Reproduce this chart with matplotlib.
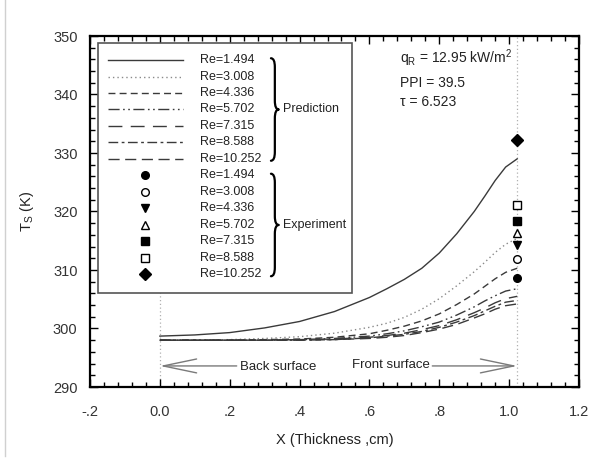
import matplotlib
matplotlib.use("Agg")
import matplotlib.pyplot as plt
from matplotlib.lines import Line2D
from matplotlib.path import Path
from matplotlib.patches import PathPatch, Rectangle

plt.rcParams['font.family'] = ['Liberation Sans', 'DejaVu Sans']

# --- data ---
reynolds = ["1.494", "3.008", "4.336", "5.702", "7.315", "8.588", "10.252"]

x_pred = [0.0, 0.1, 0.2, 0.3, 0.4, 0.5, 0.6, 0.65, 0.7, 0.75, 0.8, 0.85, 0.9, 0.93, 0.96, 0.99, 1.023]
t_1494 = [298.7, 298.9, 299.3, 300.1, 301.2, 302.9, 305.3, 306.8, 308.4, 310.3, 312.9, 316.2, 320.0, 322.6, 325.3, 327.6, 329.0]
t_3008 = [298.0, 298.0, 298.1, 298.3, 298.6, 299.2, 300.2, 300.9, 301.9, 303.3, 305.1, 307.3, 309.7, 311.3, 313.0, 314.4, 315.4]
t_4336 = [298.0, 298.0, 298.0, 298.1, 298.2, 298.5, 299.1, 299.7, 300.4, 301.3, 302.5, 304.1, 305.9, 307.2, 308.5, 309.6, 310.3]
t_5702 = [298.0, 298.0, 298.0, 298.0, 298.1, 298.3, 298.7, 299.1, 299.6, 300.3, 301.1, 302.3, 303.7, 304.7, 305.6, 306.4, 306.8]
t_7315 = [298.0, 298.0, 298.0, 298.0, 298.1, 298.2, 298.5, 298.8, 299.2, 299.8, 300.5, 301.5, 302.7, 303.5, 304.4, 305.1, 305.5]
t_8588 = [298.0, 298.0, 298.0, 298.0, 298.0, 298.1, 298.4, 298.7, 299.0, 299.5, 300.2, 301.1, 302.2, 303.0, 303.8, 304.5, 304.8]
t_10252 = [298.0, 298.0, 298.0, 298.0, 298.0, 298.1, 298.3, 298.5, 298.8, 299.3, 299.9, 300.7, 301.8, 302.5, 303.3, 303.9, 304.2]
pred_curves = [t_1494, t_3008, t_4336, t_5702, t_7315, t_8588, t_10252]

x_exp = 1.023
t_exp = [308.6, 311.8, 314.2, 316.4, 318.4, 321.1, 332.3]

x_ticks = [-0.2, 0.0, 0.2, 0.4, 0.6, 0.8, 1.0, 1.2]
x_ticklabels = ["-.2", "0.0", ".2", ".4", ".6", ".8", "1.0", "1.2"]
y_ticks = [290, 300, 310, 320, 330, 340, 350]

# --- styles ---
line_styles = ['-', (0, (1, 2.2)), (0, (5, 3)), (0, (8, 2.5, 1.2, 2.5, 1.2, 2.5)),
               (0, (10, 6)), (0, (7, 2.5, 2, 2.5)), (0, (8, 4))]
line_colors = ['#3a3a3a', '#8a8a8a', '#3a3a3a', '#3a3a3a', '#3a3a3a', '#3a3a3a', '#3a3a3a']
markers = ['o', 'o', 'v', '^', 's', 's', 'D']
marker_faces = ['black', 'white', 'black', 'white', 'black', 'white', 'black']
marker_sizes = [5.5, 5.5, 6, 6, 5.5, 5.5, 6]


def brace(ax, x0, y_top, y_bot, width):
    # right-pointing curly brace in axes fraction coords
    ym = (y_top + y_bot) / 2
    w = width
    codes = [Path.MOVETO, Path.CURVE3, Path.CURVE3, Path.LINETO,
             Path.CURVE3, Path.CURVE3,
             Path.CURVE3, Path.CURVE3, Path.LINETO,
             Path.CURVE3, Path.CURVE3]
    verts = [(x0, y_top), (x0 + w * 0.5, y_top), (x0 + w * 0.5, y_top - 0.025),
             (x0 + w * 0.5, ym + 0.025),
             (x0 + w * 0.5, ym), (x0 + w, ym),
             (x0 + w * 0.5, ym), (x0 + w * 0.5, ym - 0.025), (x0 + w * 0.5, y_bot + 0.025),
             (x0 + w * 0.5, y_bot), (x0, y_bot)]
    p = PathPatch(Path(verts, codes), fill=False, lw=1.6, ec='black', transform=ax.transAxes,
                  capstyle='round', joinstyle='round', zorder=7)
    ax.add_patch(p)


def main():
    fig = plt.figure(figsize=(5.9, 4.61), dpi=100)
    ax = fig.add_axes([90 / 590, (461 - 387) / 461, 489 / 590, 351 / 461])

    # thin page border on the left
    fig.add_artist(Line2D([5 / 590, 5 / 590], [0.01, 1.0], color='#d0d0d0', lw=1))

    # vertical guides at front/back surface
    for xv in [0.0, x_exp]:
        ax.axvline(xv, color='#b0b0b0', lw=0.9, ls=(0, (1, 2)), zorder=1)

    for i, t in enumerate(pred_curves):
        ax.plot(x_pred, t, ls=line_styles[i], color=line_colors[i], lw=1.0, zorder=3)

    for i, t in enumerate(t_exp):
        ax.plot([x_exp], [t], ls='none', marker=markers[i], mfc=marker_faces[i], mec='black',
                mew=1.0, ms=marker_sizes[i], zorder=4)

    # surface arrows
    arrow_kw = dict(arrowstyle='->,head_length=2.4,head_width=0.5', color='#7a7a7a', lw=1.0,
                    shrinkA=0, shrinkB=0)
    ax.annotate('', xy=(0.0, 293.6), xytext=(0.22, 293.6), arrowprops=arrow_kw)
    ax.annotate('', xy=(x_exp, 293.6), xytext=(0.78, 293.6), arrowprops=arrow_kw)
    ax.text(0.34, 293.5, 'Back surface', ha='center', va='center', fontsize=9.5, color='#222222')
    ax.text(0.662, 293.8, 'Front surface', ha='center', va='center', fontsize=9.5, color='#222222')

    # annotation top right
    ax.text(0.634, 0.937, r'q$_{\mathregular{R}}$ = 12.95 kW/m$^{\mathregular{2}}$', transform=ax.transAxes,
            fontsize=10, va='center', color='#222222')
    ax.text(0.634, 0.866, 'PPI = 39.5', transform=ax.transAxes, fontsize=10, va='center', color='#222222')
    ax.text(0.634, 0.812, '\u03c4 = 6.523', transform=ax.transAxes, fontsize=10, va='center', color='#222222')

    # hand-made legend box
    ax.add_patch(Rectangle((0.0164, 0.268), 0.5186, 0.712, transform=ax.transAxes, fill=True,
                           fc='white', ec='#555555', lw=1.2, zorder=5))
    row0 = 0.9316
    step = 0.0470
    for i in range(7):
        y = row0 - i * step
        ax.add_line(Line2D([0.037, 0.19], [y, y], transform=ax.transAxes, ls=line_styles[i],
                           color=line_colors[i], lw=1.0, zorder=6))
        ax.text(0.225, y, 'Re=' + reynolds[i], transform=ax.transAxes, fontsize=9,
                va='center', color='#222222', zorder=6)
    for i in range(7):
        y = row0 - (i + 7) * step
        ax.add_line(Line2D([0.1125], [y], transform=ax.transAxes, ls='none', marker=markers[i],
                           mfc=marker_faces[i], mec='black', mew=1.0, ms=marker_sizes[i], zorder=6))
        ax.text(0.225, y, 'Re=' + reynolds[i], transform=ax.transAxes, fontsize=9,
                va='center', color='#222222', zorder=6)
    brace(ax, 0.37, row0 + 0.005, row0 - 6 * step - 0.005, 0.016)
    brace(ax, 0.37, row0 - 7 * step + 0.005, row0 - 13 * step - 0.005, 0.016)
    ax.text(0.395, row0 - 3 * step, 'Prediction', transform=ax.transAxes, fontsize=9,
            va='center', color='#222222', zorder=7)
    ax.text(0.395, row0 - 10 * step, 'Experiment', transform=ax.transAxes, fontsize=9,
            va='center', color='#222222', zorder=7)

    # axes
    ax.set_xlim(-0.2, 1.2)
    ax.set_ylim(290, 350)
    ax.set_xticks(x_ticks)
    ax.set_xticklabels(x_ticklabels)
    ax.set_yticks(y_ticks)
    ax.set_xticks([-0.2 + 0.04 * k for k in range(36)], minor=True)
    ax.set_yticks([290 + 2 * k for k in range(31)], minor=True)
    ax.tick_params(which='both', direction='in', top=True, right=True, width=1.0,
                   labelsize=10.5, labelcolor='#333333')
    ax.tick_params(axis='x', pad=13)
    ax.tick_params(axis='y', pad=9)
    ax.tick_params(which='major', length=6)
    ax.tick_params(which='minor', length=3.5)
    for s in ax.spines.values():
        s.set_linewidth(1.6)

    ax.set_xlabel('X (Thickness ,cm)', fontsize=10.5, color='#222222', labelpad=10)
    ax.set_ylabel(r'T$_{\mathregular{S}}$ (K)', fontsize=10.5, color='#222222', labelpad=12)

    fig.savefig('out.png', dpi=100)


if __name__ == '__main__':
    main()
